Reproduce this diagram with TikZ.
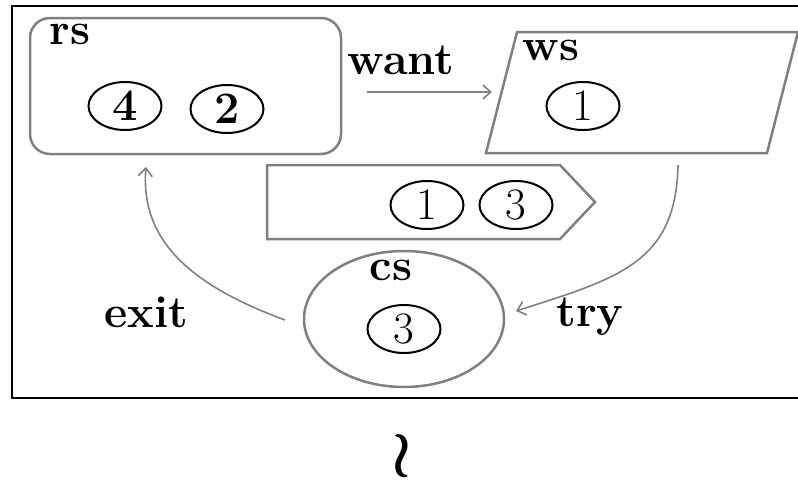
\documentclass[tikz,border=0pt]{standalone}
\usetikzlibrary{arrows.meta,shapes.geometric}
\newcommand{\wreathsym}{\mbox{\boldmath$\wr$}}
\begin{document}
\begin{tikzpicture}[x=1pt,y=-1pt,
  shapeline/.style={draw=black!50, line width=2.5pt},
  tok/.style={ellipse, draw=black, line width=2pt, minimum width=73pt, minimum height=48pt, inner sep=0pt, font=\fontsize{45}{45}\selectfont},
  btok/.style={tok, font=\fontsize{45}{45}\selectfont\bfseries},
  lbl/.style={anchor=base, inner sep=0pt, font=\fontsize{45}{45}\selectfont\bfseries},
  conn/.style={draw=black!50, line width=1.6pt, -{Straight Barb[length=8pt,width=14pt,line width=1.6pt]}}]
\useasboundingbox (0,0) rectangle (798,482);
\clip (0,0) rectangle (798,482);
% outer frame
\draw[line width=2.5pt] (12,6) rectangle (812,398);
% rs
\node[shapeline, rectangle, rounded corners=20pt, minimum width=311pt, minimum height=136pt] (rs) at (185.5,86) {};
\node[lbl] (rslbl) at (70,44) {rs};
\node[btok] (t4) at (125,106) {4};
\node[btok] (t2) at (227,109) {2};
% want
\node[lbl] (wantlbl) at (401,74) {want};
\coordinate (wantS) at (367,92);
\coordinate (wantE) at (492,92);
\draw[conn] (wantS) -- (wantE);
% ws parallelogram
\draw[shapeline] (517,32) -- (798,32) -- (767,153) -- (486,153) -- cycle;
\node[lbl] (wslbl) at (551,60) {ws};
\node[tok] (w1) at (583,106) {1};
% pentagon
\draw[shapeline] (267,165) -- (560,165) -- (595,202) -- (560,239) -- (267,239) -- cycle;
\node[tok] (p1) at (427,205) {1};
\node[tok] (p3) at (516,205) {3};
% cs
\node[shapeline, ellipse, minimum width=200pt, minimum height=136pt] (cs) at (404,319) {};
\node[lbl] (cslbl) at (391,280) {cs};
\node[tok] (c3) at (404,329) {3};
% exit
\node[lbl] (exitlbl) at (146,327) {exit};
\coordinate (exitS) at (285,320);
\coordinate (exitE) at (146,167);
\draw[conn] (exitS) .. controls (190,285) and (140,240) .. (exitE);
% try
\node[lbl] (trylbl) at (590,326) {try};
\coordinate (tryS) at (678,165);
\coordinate (tryE) at (516,311);
\draw[conn] (tryS) .. controls (676,262) and (620,278) .. (tryE);
% wreath
\node[inner sep=0pt, scale=6.5] (wreath) at (402,456) {\wreathsym};
\end{tikzpicture}
\end{document}
